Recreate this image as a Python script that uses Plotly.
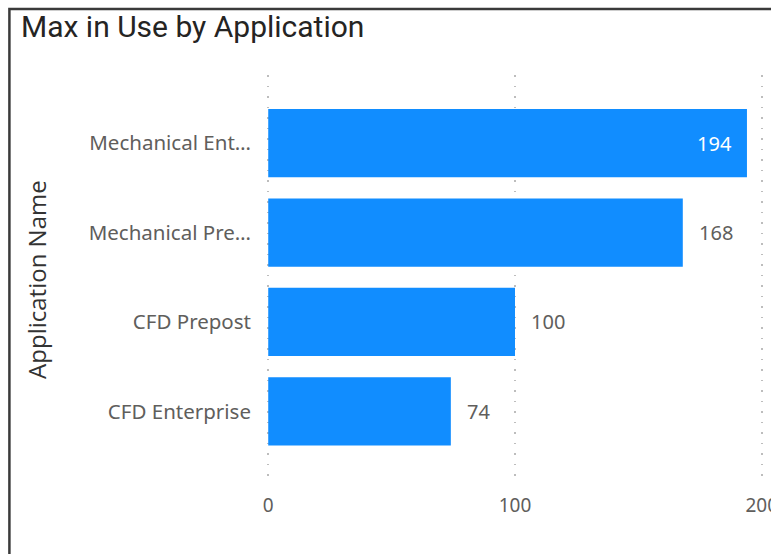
import plotly.graph_objects as go

# Data
applications = ["Mechanical Ent…", "Mechanical Pre…", "CFD Prepost", "CFD Enterprise"]
max_in_use = [194, 168, 100, 74]
x_ticks = [0, 100, 200]

W, H = 771, 554
# plot area in pixels (x range padded by 0.5 so the edge gridlines are drawn)
L, R, T, B = 266.8, 763.2, 75, 485


def px_x(px):
    return (px - L) / (R - L)


def px_y(py):
    return (B - py) / (B - T)


BAR_COLOR = "#118DFF"
LABEL_GREY = "#605E5C"
DARK = "#252423"

fig = go.Figure(
    go.Bar(
        x=max_in_use,
        y=applications,
        orientation="h",
        marker=dict(color=BAR_COLOR, line=dict(width=0)),
        hoverinfo="skip",
    )
)

# value labels: largest bar inside (white), others outside (grey)
top = max(max_in_use)
for app, v in zip(applications, max_in_use):
    inside = v == top
    fig.add_annotation(
        x=v, y=app, xref="x", yref="y",
        text=str(v), showarrow=False,
        xanchor="right" if inside else "left",
        xshift=-13 if inside else 14,
        font=dict(family="Noto Sans", size=20, color="white" if inside else LABEL_GREY),
    )

# y axis title
fig.add_annotation(
    x=px_x(36), y=px_y(279.5), xref="paper", yref="paper",
    text="Application Name", textangle=-90, showarrow=False,
    xanchor="center", yanchor="middle",
    font=dict(family="Open Sans", size=24, color="#333333"),
)

fig.update_layout(
    width=W, height=H,
    margin=dict(l=L, r=W - R, t=T, b=H - B, pad=0, autoexpand=False),
    paper_bgcolor="white", plot_bgcolor="white",
    bargap=0.236,
    showlegend=False,
    title=dict(
        text="Max in Use by Application",
        x=21 / W, xref="container", xanchor="left",
        y=1 - 16 / H, yref="container", yanchor="top",
        font=dict(family="Roboto", size=30, color=DARK),
    ),
    xaxis=dict(
        range=[-0.5, 200.5], tickvals=x_ticks, ticktext=[str(t) for t in x_ticks],
        showgrid=True, gridcolor="#BDBDBD", gridwidth=1.5, griddash="1.5px,9px",
        zeroline=False, showline=False, ticks="",
        automargin=False,
        ticklabelstandoff=7, ticklabeloverflow="allow",
        tickfont=dict(family="Noto Sans", size=19, color=LABEL_GREY),
    ),
    yaxis=dict(
        categoryorder="array", categoryarray=applications,
        range=[3.824, -0.763],
        showgrid=False, zeroline=False, showline=False, ticks="",
        automargin=False,
        ticklabelstandoff=15,
        tickfont=dict(family="Noto Sans", size=20.5, color=LABEL_GREY),
    ),
    shapes=[
        dict(type="path", xref="paper", yref="paper",
             path=f"M {px_x(9)} {px_y(560)} L {px_x(9)} {px_y(9)} L {px_x(780)} {px_y(9)}",
             line=dict(color="#3A3A3A", width=2.5)),
    ],
)

fig.write_html("out.html")
